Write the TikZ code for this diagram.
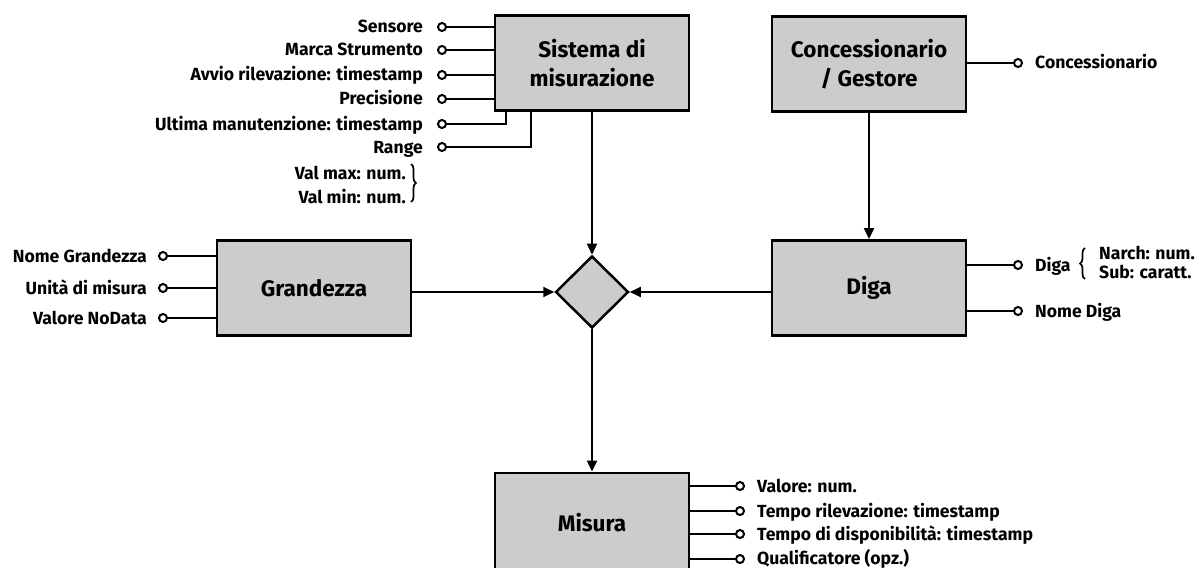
\documentclass[tikz,border=0pt]{standalone}
\usepackage{fontspec}
\setmainfont{Fira Sans}
\usetikzlibrary{arrows.meta,decorations.pathreplacing,shapes.geometric}
\definecolor{boxgray}{RGB}{204,204,204}
\begin{document}
\begin{tikzpicture}[x=1pt,y=-1pt,
 ent/.style={draw=black,line width=2.8pt,fill=boxgray,minimum width=194pt,minimum height=95pt,
   font=\fontsize{22.5}{29}\selectfont\bfseries,align=center,inner sep=0pt},
 rel/.style={diamond,draw=black,line width=2.5pt,fill=boxgray,minimum width=73pt,minimum height=72pt,inner sep=0pt},
 attr/.style={circle,draw=black,line width=2pt,fill=white,minimum size=8pt,inner sep=0pt},
 alab/.style={font=\fontsize{17.6}{20}\selectfont\bfseries,inner sep=0pt},
 aline/.style={line width=2.2pt},
 brc/.style={decorate,decoration={brace,amplitude=5pt},line width=1.7pt},
 link/.style={line width=2pt,-{Triangle[length=11pt,width=10pt]}}]
\useasboundingbox (0,0) rectangle (1198,567);
\clip (0,0) rectangle (1198,567);

% entities
\node[ent] (sys) at (592,63) {Sistema di\\misurazione};
\node[ent] (con) at (869,64) {Concessionario\\/ Gestore};
\node[ent] (gra) at (314,288) {Grandezza};
\node[ent] (dig) at (869,288) {Diga};
\node[rel] (rel) at (592,292) {};
\node[ent,minimum height=100pt] (mis) at (592,523) {Misura};

% connectors
\draw[link] (sys) -- (rel);
\draw[link] (con) -- (dig);
\draw[link] (gra.east |- rel) -- (rel.west);
\draw[link] (dig.west |- rel) -- (rel.east);
\draw[link] (rel) -- (mis);

% Sistema di misurazione attributes
\node[attr] (cSens) at (442,27) {};
\node[attr] (cMarca) at (442,50) {};
\node[attr] (cAvvio) at (442,75) {};
\node[attr] (cPrec) at (442,99) {};
\node[attr] (cUlt) at (442,124) {};
\node[attr] (cRange) at (442,147) {};
\draw[aline] (cSens) -- (cSens -| sys.west);
\draw[aline] (cMarca) -- (cMarca -| sys.west);
\draw[aline] (cAvvio) -- (cAvvio -| sys.west);
\draw[aline] (cPrec) -- (cPrec -| sys.west);
\draw[aline] (cUlt) -| ([xshift=12pt]sys.south west);
\draw[aline] (cRange) -| ([xshift=37pt]sys.south west);
\node[alab,anchor=base east] (lSens) at (423,33) {Sensore};
\node[alab,anchor=base east] (lMarca) at (423,56) {Marca Strumento};
\node[alab,anchor=base east] (lAvvio) at (423,81) {Avvio rilevazione: timestamp};
\node[alab,anchor=base east] (lPrec) at (423,105) {Precisione};
\node[alab,anchor=base east] (lUlt) at (423,130) {Ultima manutenzione: timestamp};
\node[alab,anchor=base east] (lRange) at (423,153) {Range};
\node[alab,anchor=base east] (lVmax) at (406,179) {Val max: num.};
\node[alab,anchor=base east] (lVmin) at (406,203) {Val min: num.};
\draw[brc] (411,164) -- (411,202);

% Concessionario attribute
\node[attr] (cCon) at (1018,63) {};
\draw[aline] (con.east |- cCon) -- (cCon);
\node[alab,anchor=base west] (lCon) at (1035,69) {Concessionario};

% Grandezza attributes
\node[attr] (cNome) at (163,256) {};
\node[attr] (cUnit) at (163,288) {};
\node[attr] (cNoD) at (163,318) {};
\draw[aline] (cNome) -- (cNome -| gra.west);
\draw[aline] (cUnit) -- (cUnit -| gra.west);
\draw[aline] (cNoD) -- (cNoD -| gra.west);
\node[alab,anchor=base east] (lNome) at (147,262) {Nome Grandezza};
\node[alab,anchor=base east] (lUnit) at (147,294) {Unità di misura};
\node[alab,anchor=base east] (lNoD) at (147,324) {Valore NoData};

% Diga attributes
\node[attr] (cDiga) at (1018,265) {};
\node[attr] (cNDiga) at (1018,311) {};
\draw[aline] (dig.east |- cDiga) -- (cDiga);
\draw[aline] (dig.east |- cNDiga) -- (cNDiga);
\node[alab,anchor=base west] (lDiga) at (1035,271) {Diga};
\draw[brc] (1085,279) -- (1085,248);
\node[alab,anchor=base west] (lNarch) at (1099,259) {Narch: num.};
\node[alab,anchor=base west] (lSub) at (1099,278) {Sub: caratt.};
\node[alab,anchor=base west] (lNDiga) at (1035,317) {Nome Diga};

% Misura attributes
\node[attr] (cVal) at (740,486) {};
\node[attr] (cTril) at (740,511) {};
\node[attr] (cTdis) at (740,534) {};
\node[attr] (cQual) at (740,559) {};
\draw[aline] (mis.east |- cVal) -- (cVal);
\draw[aline] (mis.east |- cTril) -- (cTril);
\draw[aline] (mis.east |- cTdis) -- (cTdis);
\draw[aline] (mis.east |- cQual) -- (cQual);
\node[alab,anchor=base west] (lVal) at (757,492) {Valore: num.};
\node[alab,anchor=base west] (lTril) at (757,517) {Tempo rilevazione: timestamp};
\node[alab,anchor=base west] (lTdis) at (757,540) {Tempo di disponibilità: timestamp};
\node[alab,anchor=base west] (lQual) at (757,564) {Qualificatore (opz.)};
\end{tikzpicture}
\end{document}
